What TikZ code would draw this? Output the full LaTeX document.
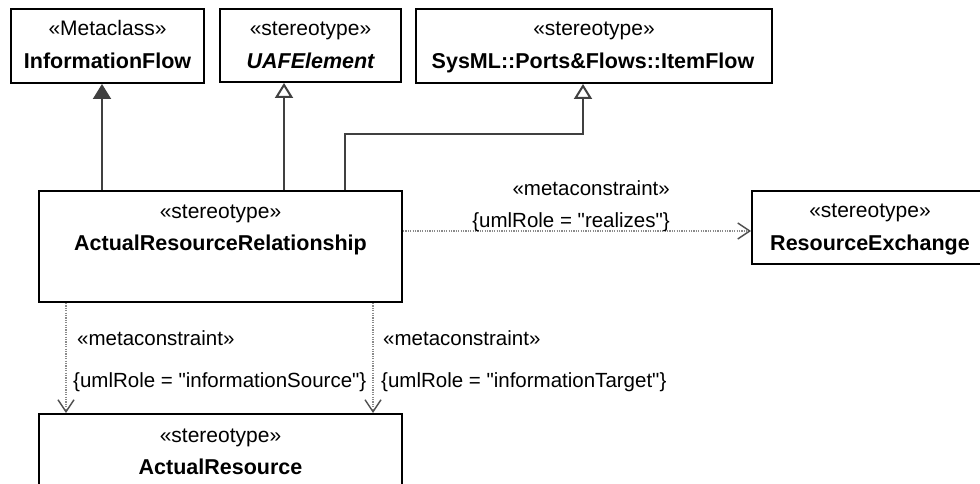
\documentclass[tikz,border=0pt]{standalone}
\usepackage{fontspec}
\setmainfont{Liberation Sans}[Ligatures=TeXOff]
\usetikzlibrary{arrows.meta,calc}
\definecolor{genc}{HTML}{404040}
\definecolor{depc}{HTML}{8A8A8A}
\definecolor{deptip}{HTML}{505050}
\begin{document}
\begin{tikzpicture}[x=1pt,y=-1pt,
  box/.style={draw=black, line width=2pt, inner sep=0pt, rectangle},
  st/.style={anchor=base, inner sep=0pt, font=\fontsize{21}{25}\selectfont},
  nm/.style={anchor=base, inner sep=0pt, font=\fontsize{21.5}{25}\selectfont\bfseries},
  lbl/.style={inner sep=0pt, font=\fontsize{20.5}{24}\selectfont},
  genF/.style={draw=genc, line width=2pt, -{Triangle[width=18pt,length=15pt,fill=genc]}},
  genO/.style={draw=genc, line width=2pt, -{Triangle[open,width=18pt,length=15pt,fill=white]}},
  dep/.style={draw=depc, line width=1.3pt, dash pattern=on 1.2pt off 1.2pt,
    -{Straight Barb[length=12pt,width=16pt,line width=1.4pt,color=deptip]}}]
\useasboundingbox (0,0) rectangle (980,484);
\fill[white] (0,0) rectangle (980,484);
\clip (0,0) rectangle (980,484);

% boxes
\node[box, minimum width=193pt, minimum height=74pt] (ifB) at (107.5,46) {};
\node[st] (ifS) at (107.5,36) {«Metaclass»};
\node[nm] (ifN) at (107.5,69) {InformationFlow};

\node[box, minimum width=181pt, minimum height=73pt] (uafB) at (310.5,45.5) {};
\node[st] (uafS) at (310.5,36) {«stereotype»};
\node[nm, font=\fontsize{21.5}{25}\selectfont\bfseries\itshape] (uafN) at (310.5,69) {UAFElement};

\node[box, minimum width=356pt, minimum height=74pt] (ifwB) at (594,46) {};
\node[st] (ifwS) at (594,36) {«stereotype»};
\node[nm] (ifwN) at (593,69) {SysML::Ports\&Flows::ItemFlow};

\node[box, minimum width=363pt, minimum height=111pt] (arrB) at (220.5,246.5) {};
\node[st] (arrS) at (220.5,218) {«stereotype»};
\node[nm] (arrN) at (220.5,250) {ActualResourceRelationship};

\node[box, minimum width=238pt, minimum height=73pt] (reB) at (871,227.5) {};
\node[st] (reS) at (870,217) {«stereotype»};
\node[nm] (reN) at (870,250) {ResourceExchange};

\node[box, minimum width=363pt, minimum height=106pt] (arB) at (220.5,467) {};
\node[st] (arS) at (220.5,442) {«stereotype»};
\node[nm] (arN) at (220.5,474) {ActualResource};

% generalizations
\draw[genF] ($(arrB.north west)+(64,0)$) coordinate (g1) -- (g1 |- ifB.south);
\draw[genO] ($(arrB.north west)+(246,0)$) coordinate (g2) -- (g2 |- uafB.south);
\draw[genO] ($(arrB.north west)+(307,0)$) coordinate (g3) -- ++(0,-56) coordinate (g4)
  -| ($(ifwB.south west)+(168,0)$);

% dependencies
\draw[dep] ($(arrB.north east)+(0,41)$) coordinate (d1) -- (d1 -| reB.west);
\node[lbl, anchor=base east] (l1) at (670,195) {«metaconstraint»};
\node[lbl, anchor=base east] (l2) at (670,227) {\{umlRole = "realizes"\}};

\draw[dep] ($(arrB.south west)+(28,0)$) coordinate (d2) -- (d2 |- arB.north);
\draw[dep] ($(arrB.south west)+(335,0)$) coordinate (d3) -- (d3 |- arB.north);
\node[lbl, anchor=base west] (l3) at (77,345) {«metaconstraint»};
\node[lbl, anchor=base west] (l4) at (73,387) {\{umlRole = "informationSource"\}};
\node[lbl, anchor=base west] (l5) at (383,345) {«metaconstraint»};
\node[lbl, anchor=base west] (l6) at (381,387) {\{umlRole = "informationTarget"\}};
\end{tikzpicture}
\end{document}
